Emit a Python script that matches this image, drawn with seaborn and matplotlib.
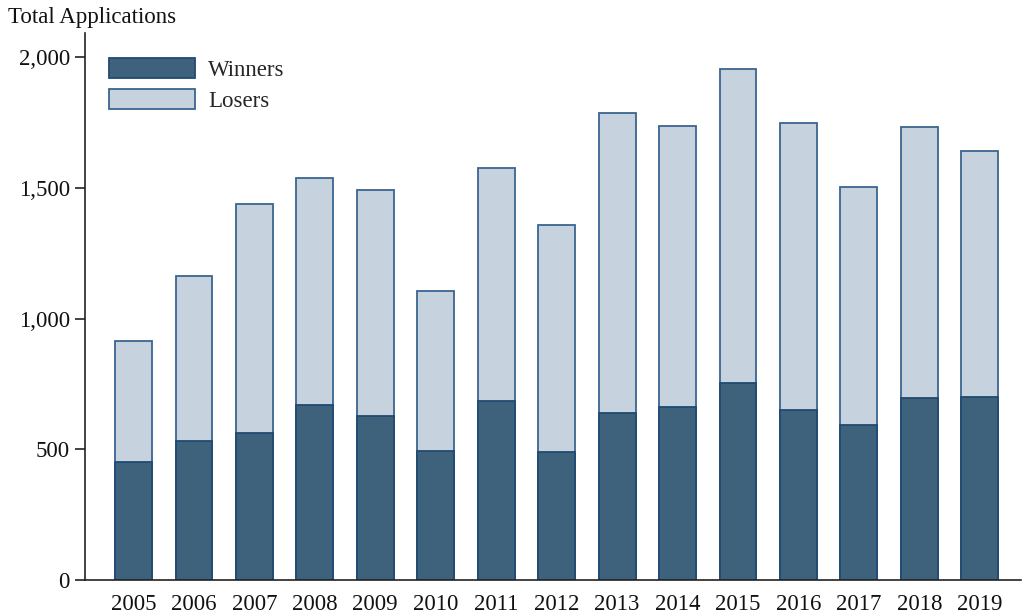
import matplotlib
matplotlib.use("Agg")
import matplotlib.pyplot as plt
import seaborn as sns
import pandas as pd
import numpy as np
from matplotlib.patches import Patch
from matplotlib.ticker import FuncFormatter

years = ["2005", "2006", "2007", "2008", "2009", "2010", "2011", "2012",
         "2013", "2014", "2015", "2016", "2017", "2018", "2019"]
winners = [450, 533, 561, 670, 626, 494, 686, 492, 639, 661, 754, 652, 595, 697, 699]
losers = [463, 629, 876, 867, 865, 613, 889, 865, 1148, 1073, 1198, 1094, 909, 1033, 941]

df = pd.DataFrame({"year": years, "Winners": winners, "Losers": losers})
df["Total"] = df["Winners"] + df["Losers"]

sns.set_theme(style="white")
plt.rcParams["font.family"] = ["Liberation Serif", "DejaVu Serif"]

win_fill, win_edge = "#3e627c", "#1f4a72"
los_fill, los_edge = "#c6d3df", "#3b6590"
fs = 16.5

fig = plt.figure(figsize=(10.26, 6.16), dpi=100)
ax = fig.add_axes([0.083, 0.058, 0.912, 0.888])

sns.barplot(data=df, x="year", y="Total", color=los_fill, saturation=1,
            width=0.61, edgecolor=los_edge, linewidth=1.3, ax=ax)
sns.barplot(data=df, x="year", y="Winners", color=win_fill, saturation=1,
            width=0.61, edgecolor=win_edge, linewidth=1.3, ax=ax)

ax.set_xlim(-0.8, 14.68)
ax.set_ylim(0, 2090)
ax.set_yticks([0, 500, 1000, 1500, 2000])
ax.yaxis.set_major_formatter(FuncFormatter(lambda v, p: f"{int(v):,}"))
ax.set_xlabel("")
ax.set_ylabel("")
sns.despine(ax=ax)
for s in ["left", "bottom"]:
    ax.spines[s].set_color("#222222")
    ax.spines[s].set_linewidth(1.2)
ax.tick_params(axis="y", which="both", left=True, length=7, width=1.2,
               color="#222222", labelsize=fs, labelcolor="#111111", pad=4)
ax.tick_params(axis="x", bottom=False, labelsize=fs, labelcolor="#111111", pad=4)

fig.text(0.008, 0.971, "Total Applications", fontsize=fs, color="#111111",
         ha="left", va="center")

handles = [Patch(facecolor=win_fill, edgecolor=win_edge, linewidth=1.3, label="Winners"),
           Patch(facecolor=los_fill, edgecolor=los_edge, linewidth=1.3, label="Losers")]
ax.legend(handles=handles, loc="upper left", bbox_to_anchor=(0.016, 0.972),
          frameon=False, fontsize=fs, handlelength=3.75, handleheight=1.0,
          handletextpad=0.55, labelspacing=0.35, borderaxespad=0)

fig.savefig("out.png", dpi=100)
